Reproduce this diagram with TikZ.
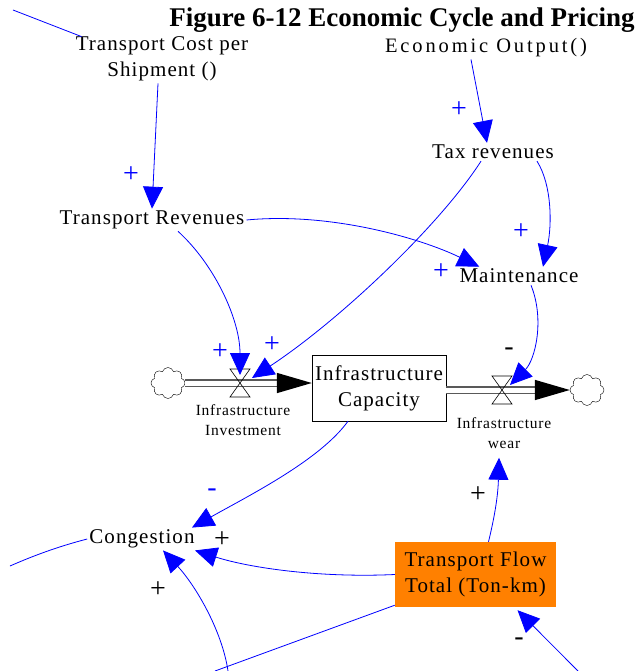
\documentclass[tikz,border=0pt]{standalone}
\usepackage{fontspec}
\setmainfont{Liberation Serif}
\newfontfamily\vensimfont[LetterSpace=5]{Liberation Serif}
\newfontfamily\widefont[LetterSpace=14]{Liberation Serif}
\definecolor{linkblue}{RGB}{0, 0, 255}
\definecolor{floworange}{RGB}{255, 128, 0}
\usetikzlibrary{arrows.meta}
\usetikzlibrary{shapes.symbols}
\tikzset{
  var/.style={align=center, inner sep=2pt,
    font=\vensimfont\fontsize{21}{26}\selectfont},
  widevar/.style={var, font=\widefont\fontsize{20.5}{25}\selectfont},
  small/.style={align=center, inner sep=1pt,
    font=\vensimfont\fontsize{15.5}{20}\selectfont},
  stock/.style={var, draw, thin, minimum width=134pt, minimum height=66pt},
  cloudsrc/.style={cloud, draw, thin, cloud puffs=8, aspect=1.1,
    minimum width=34pt, minimum height=31pt, inner sep=0},
  pipe/.style={draw=black!65, line width=1.5pt, double=white,
    double distance=5pt, -{Triangle[length=35pt,width=20pt,color=black]}},
  valve/.style={draw, semithick},
  link/.style={draw=linkblue, line width=0.8pt,
    -{Triangle[length=22pt,width=20pt]}},
  linkplain/.style={draw=linkblue, line width=0.8pt},
  sgn/.style={inner sep=0, font=\vensimfont\fontsize{28}{28}\selectfont},
  bsgn/.style={sgn, text=linkblue}
}

\begin{document}
\begin{tikzpicture}[x=1pt,y=-1pt]
    \useasboundingbox (0,0) rectangle (642,671);

    \node [font=\fontsize{27}{30}\selectfont\bfseries] (title) at (402,20)
          {Figure 6-12 Economic Cycle and Pricing};

    % variables
    \node [var] (cost) at (162,59) {Transport Cost per\\Shipment ()};
    \node [widevar] (output) at (486,48) {Economic Output()};
    \node [var] (tax) at (493,152) {Tax revenues};
    \node [var] (trev) at (152,220) {Transport Revenues};
    \node [var] (maint) at (519,276) {Maintenance};
    \node [stock] (cap) at (379,388) {Infrastructure\\Capacity};
    \node [var] (cong) at (142,539) {Congestion};
    \node [var, fill=floworange, minimum width=161pt, minimum height=65pt]
          (flow) at (475.5,574.5) {Transport Flow\\Total (Ton-km)};

    % flows
    \node [cloudsrc] (cloudin) at (168,383) {};
    \node [cloudsrc] (cloudout) at (587,390) {};
    \coordinate (inv) at (240,383);
    \coordinate (wear) at (502,390);
    \node [small] (invlbl) at (243,420) {Infrastructure\\Investment};
    \node [small] (wearlbl) at (504,433) {Infrastructure\\wear};

    \draw [pipe] (cloudin.east) -- (cloudin.east -| cap.west);
    \draw [pipe] (cap.east |- cloudout) -- (cloudout.west);
    \draw [valve, shift={(inv)}] (-10,-14) -- (10,-14) -- (-10,14) -- (10,14) -- cycle;
    \draw [valve, shift={(wear)}] (-10,-14) -- (10,-14) -- (-10,14) -- (10,14) -- cycle;

    % ends outside the picture
    \coordinate (edgeA) at (13,10);
    \coordinate (edgeB) at (10,566);
    \coordinate (edgeC) at (228,671);
    \coordinate (edgeD) at (215,671);
    \coordinate (edgeE) at (578,671);

    % links
    \draw [link] ([xshift=-15pt]output.south) -- ([xshift=-6pt]tax.north);
    \draw [link] ([xshift=-4pt]cost.south) -- (trev.north);
    \draw [link] ([xshift=44pt]tax.south) .. controls (552,185) and (552,225)
          .. ([xshift=24pt]maint.north);
    \draw [link] (trev.east) .. controls (330,212) and (420,238)
          .. ([xshift=22pt]maint.north west);
    \draw [link] ([xshift=-12pt]tax.south) .. controls (440,225) and (340,320)
          .. ([shift={(12,-5)}]inv);
    \draw [link] ([xshift=26pt]trev.south) .. controls (215,265) and (240,320)
          .. ([shift={(0,-8)}]inv);
    \draw [link] ([xshift=12pt]maint.south) .. controls (545,320) and (535,360)
          .. ([shift={(8,-5)}]wear);
    \draw [link] ([xshift=-31pt]cap.south) .. controls (320,460) and (250,495)
          .. ([xshift=50pt]cong.north);
    \draw [link] (flow.west) .. controls (320,578) and (250,568)
          .. ([xshift=53pt]cong.south);
    \draw [link] ([xshift=13pt]flow.north) .. controls (495,515) and (498,495)
          .. ([shift={(-5,8)}]wearlbl.south);
    \draw [link] (edgeE) -- ([shift={(42,3)}]flow.south);
    \draw [linkplain] ([yshift=2pt]flow.south west) -- (edgeD);
    \draw [link] (edgeC) .. controls (222,630) and (195,585)
          .. ([xshift=21pt]cong.south);
    \draw [linkplain] (cong.west) .. controls (60,546) and (35,555) .. (edgeB);
    \draw [linkplain] (edgeA) -- ([shift={(8,2)}]cost.north west);

    % polarities
    \node [bsgn] (s1) at (459,110) {+};
    \node [bsgn] (s2) at (131,175) {+};
    \node [bsgn] (s3) at (521,232) {+};
    \node [bsgn] (s4) at (441,272) {+};
    \node [bsgn] (s5) at (220,352) {+};
    \node [bsgn] (s6) at (272,345) {+};
    \node [bsgn] (s7) at (212,493) {-};
    \node [sgn] (s8) at (509,352) {-};
    \node [sgn] (s9) at (222,540) {+};
    \node [sgn] (s10) at (478,495) {+};
    \node [sgn] (s11) at (158,590) {+};
    \node [sgn] (s12) at (519,642) {-};
\end{tikzpicture}
\end{document}
